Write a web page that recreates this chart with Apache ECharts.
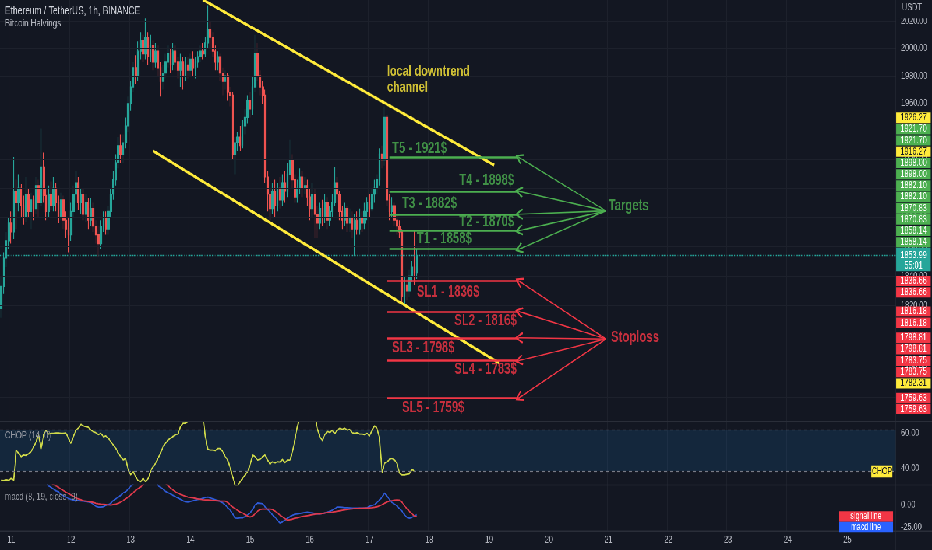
<!DOCTYPE html>
<html>
<head>
<meta charset="utf-8">
<title>ETHUSDT 1h</title>
<script src="https://cdn.jsdelivr.net/npm/echarts@6/dist/echarts.min.js"></script>
<style>
  html, body { margin: 0; padding: 0; background: #131722; overflow: hidden; }
  #wrap { width: 932px; height: 550px; overflow: hidden; }
  #chart { width: 1600px; height: 690px; transform: scale(0.5825, 0.797101); transform-origin: 0 0; }
</style>
</head>
<body>
<div id="wrap"><div id="chart"></div></div>
<script>
// the snapshot is squeezed: draw at 1600x690 and scale the canvas down to 932x550
var SX = 932 / 1600, SY = 550 / 690;
function px(v) { return v / SX; }
function py(v) { return v / SY; }

// hourly bars, bar 0 = day 10 20:00
var firstOpen = 1818;
var closes = [1833,1852,1864,1876,1870,1898,1890,1900,1888,1880,
  1896,1884,1892,1886,1902,1890,1915,1895,1884,1896,
  1888,1900,1890,1880,1892,1878,1872,1868,1884,1896,
  1904,1890,1896,1882,1890,1878,1886,1874,1868,1862,
  1874,1880,1872,1884,1896,1906,1918,1930,1924,1932,
  1944,1960,1972,1986,1980,1998,2006,1996,2008,1994,
  2002,1990,1998,1986,1976,1982,1990,1996,1988,1998,
  1990,1984,1990,1980,1988,1984,1992,1986,1990,1994,
  1998,1996,2004,2014,2008,1998,1990,1994,1982,1976,
  1980,1968,1966,1924,1932,1936,1930,1944,1950,1962,
  1956,1972,1996,1980,1972,1966,1908,1896,1886,1898,
  1888,1900,1892,1904,1898,1910,1920,1906,1894,1900,
  1908,1900,1902,1894,1886,1896,1882,1876,1886,1880,
  1890,1878,1884,1890,1904,1896,1884,1878,1886,1876,
  1880,1872,1878,1872,1880,1876,1884,1890,1886,1896,
  1900,1906,1924,1920,1950,1892,1884,1888,1878,1874,
  1870,1826,1834,1830,1840,1846,1842,1853.99];
var highs = [1840,1856,1870,1880,1884,1922,1906,1910,1903,1895,
  1908,1900,1897,1895,1908,1906,1942,1925,1900,1902,
  1905,1908,1904,1895,1897,1895,1884,1880,1890,1902,
  1912,1908,1900,1900,1896,1893,1893,1890,1878,1874,
  1878,1884,1884,1888,1900,1912,1924,1936,1938,1938,
  1950,1965,1976,1990,1995,2005,2012,2010,2022,2012,
  2010,2006,2004,2002,1990,1988,1996,2002,2000,2004,
  2002,1994,1996,1994,1994,1994,1996,1998,1994,1998,
  2002,2004,2008,2032,2020,2012,2002,1998,1996,1986,
  1984,1982,1972,1968,1936,1940,1944,1948,1956,1966,
  1968,1980,2010,2004,1984,1976,1970,1912,1900,1904,
  1906,1904,1908,1910,1912,1918,1934,1924,1910,1906,
  1914,1912,1908,1906,1900,1904,1900,1888,1890,1892,
  1896,1894,1888,1896,1915,1908,1898,1888,1890,1888,
  1886,1884,1882,1884,1886,1884,1890,1894,1896,1900,
  1906,1910,1928,1930,1958,1952,1896,1894,1890,1882,
  1878,1872,1840,1838,1844,1850,1871,1858];
var lows = [1812,1828,1846,1858,1862,1865,1872,1884,1880,1875,
  1877,1880,1872,1878,1882,1880,1888,1890,1878,1880,
  1885,1884,1884,1876,1878,1872,1866,1856,1864,1880,
  1890,1885,1882,1878,1877,1872,1874,1870,1862,1853,
  1858,1870,1868,1868,1880,1892,1902,1914,1918,1918,
  1928,1940,1955,1968,1974,1976,1992,1990,1992,1988,
  1990,1984,1986,1980,1965,1970,1978,1986,1982,1984,
  1984,1978,1972,1970,1976,1978,1980,1980,1978,1986,
  1990,1992,1994,2000,2000,1994,1984,1984,1976,1966,
  1970,1962,1958,1920,1910,1926,1926,1928,1938,1946,
  1950,1952,1968,1976,1966,1960,1904,1884,1878,1882,
  1880,1884,1886,1888,1890,1894,1906,1900,1890,1890,
  1896,1894,1896,1888,1878,1880,1866,1866,1872,1874,
  1876,1872,1874,1880,1888,1890,1878,1872,1874,1870,
  1870,1866,1854,1868,1868,1870,1872,1878,1880,1884,
  1890,1896,1902,1914,1916,1888,1878,1880,1874,1868,
  1866,1822,1820,1824,1826,1836,1834,1838];
var lastPrice = 1853.99;

var chopValues = [33,32.8,33.3,33,34,33,50.3,48.5,46.5,47.4,
  47.2,48.3,49.3,52,55,59,51,59,61.7,59.4,
  59.8,59.8,60,60,59.8,59.8,60,57,54.1,58,
  61.7,62.7,65,64,63.6,63.2,61.7,60.8,60.2,59,
  59.8,57.9,58.3,57,55,53.2,51.2,48.5,46.5,44.6,
  45.5,38.9,36,38,35,32.8,32.2,34,32.2,34,
  38,40.8,42.7,45.5,48.5,52.3,54.1,56,57,58,
  59,59.4,63.6,65.5,65.5,66.5,70,72,74,75,
  74,72,58,50.7,50.3,50.3,49.9,51.2,51.2,49.3,
  46.5,44.6,39.8,35,30,30,32.2,34,36,38,
  41.7,47.4,46.5,44.6,45,46.5,47.4,44.6,42.3,43.6,
  43,43.6,43.4,45,43,44.6,44.6,49.3,56,63.6,
  70,74,76,77,76,74,70,62.7,57.9,55.6,
  59,60.8,60.4,61.5,59.8,61.5,62.7,62.1,62.7,61.7,
  62.1,60.2,59.8,60.2,59.4,59.4,59,59.8,58.3,61.5,
  64.2,62.7,57,37,42.7,43.6,45,45.5,44.6,42.7,
  37,36,36,36.4,36.6,39.3,38];
var macdValues = [26,30,34,38,40,44,46,47,47,46,
  45,44,42,40,38,36,34,30,26,21.6,
  20,18,16,15,12,10.5,9,7.5,6.5,5.7,
  5.2,5,4.8,4.5,4,3.5,3,1,-1.5,-2.3,
  -2.3,-2,-0.5,0.5,2,5,7,9,11,13.6,
  15,18,21,24,28,32,36,38,40,38,
  36,34,30,22,20,18,15.5,14,12.5,11,
  9.5,8,6.5,5,3.8,3.4,4,5,5.5,6.2,
  6.8,7.5,8.5,9,8,7,6,5.2,4,2.5,
  0,-3,-6,-10,-14.8,-15,-14.5,-14.5,-13,-11,
  -9,-5,0,2.3,2,1.5,-2,-5,-8,-11,
  -14,-17,-20.5,-19,-17,-15,-13,-11.5,-10.5,-10,
  -9.5,-9,-8.5,-8,-8.5,-9,-9.5,-10,-10,-9.5,
  -9,-8,-7,-6,-4,-2.3,-2.3,-2.5,-3,-3,
  -3.2,-3.4,-3.4,-3.4,-3.4,-3.4,-3.4,-3,-1.5,-0.5,
  0.5,3,5.7,9,13.6,10,6,3,1,-1,
  -4,-7,-11,-14,-15,-14,-12.5,-11];
var signalValues = [25,27,29,31,33,35,37,38,39,40,
  40,40,39,38,37,35,33,31,29,27,
  25,23.5,21.6,20,18,16.5,14.5,13,11.5,10,
  8,7,6,5,4.5,4,3.5,3,2,1.5,
  1.1,0.8,0.5,0.2,0,0.5,1,2,3.4,5,
  7,9,11.4,14,16.5,18.5,20.5,23,26,28,
  30,32,33,32,30,28,25,22,19,17,
  15,13.5,12,11,10,9,8.5,8,7.5,7,
  6.5,6,5.8,5.7,5.5,5.2,5,4.8,4.6,4.5,
  4.5,3,0,-2.3,-4,-6,-8,-9,-11,-12.5,
  -13.6,-12.5,-10,-7,-5,-4.5,-4.5,-4.5,-4.5,-5,
  -7,-9,-11.4,-13.5,-15.5,-17,-16.5,-16,-15,-14.5,
  -13.6,-13,-12.5,-12,-11.5,-11,-10.5,-10,-10,-9.5,
  -9,-8.5,-8.2,-8,-7.5,-7,-6.5,-6,-5.5,-5,
  -4.5,-4.3,-4,-4,-3.8,-3.6,-3.5,-3.4,-3.2,-3,
  -2.5,-2,-1,0.5,2,3.5,4.5,5,5.5,5.7,
  5.5,3,-1,-4,-7,-10,-12.5,-13];

var priceTicks = [1760, 1780, 1800, 1820, 1840, 1860, 1880, 1900, 1920, 1940, 1960, 1980, 2000, 2020];

// drawings, stored as [bar index, price]
var channelUpper = [[81, 2036], [198, 1916.27]];
var channelLower = [[61, 1926.27], [200, 1782.31]];
var channelPrices = [1926.27, 1916.27, 1782.31];
var targetPrices = [1921.70, 1898.00, 1882.10, 1870.83, 1858.14];
var targetNames = ['T5 - 1921$', 'T4 - 1898$', 'T3 - 1882$', 'T2 - 1870$', 'T1 - 1858$'];
var targetTextAt = [[157, 1927.7], [184, 1905.2], [161, 1889.2], [184, 1876.8], [167, 1865.1]];
var stopPrices = [1836.66, 1816.18, 1798.81, 1783.75, 1759.63];
var stopNames = ['SL1 - 1836$', 'SL2 - 1816$', 'SL3 - 1798$', 'SL4 - 1783$', 'SL5 - 1759$'];
var stopTextAt = [[167, 1829.3], [182, 1809.9], [157, 1792.2], [182, 1777.8], [161, 1753.2]];
var targetsHub = [243, 1884.4];
var stopsHub = [243, 1798.0];

var GREEN = '#4caf50', RED = '#f23645', YELLOW = '#ffeb3b', TEAL = '#26a69a';
var GRID = '#1d212c', AXIS_TEXT = '#b2b5be';
var FONT = '"Liberation Sans", Arial, sans-serif';
var CHEVRON = 'path://M10,0L20,14L17.4,15.8L10,4.6L2.6,15.8L0,14Z';

var categories = [];
for (var k = 0; k < 360; k++) {
  var hAll = 20 + k;
  var hh = hAll % 24;
  categories.push((10 + Math.floor(hAll / 24)) + ' ' + (hh < 10 ? '0' + hh : hh) + ':00');
}
function isDayStart(idx, val) { return /00:00$/.test(val); }

var candles = closes.map(function (c, i) {
  return [i === 0 ? firstOpen : closes[i - 1], c, lows[i], highs[i]];
});

function axisMark(v, text) {
  return {
    yAxis: v,
    lineStyle: { color: 'rgba(0,0,0,0)', width: 1 },
    label: { show: true, position: 'end', formatter: text, color: AXIS_TEXT, fontSize: 12.5, distance: px(5) }
  };
}

var chart = echarts.init(document.getElementById('chart'), null, { width: 1600, height: 690 });

var option = {
  backgroundColor: '#131722',
  animation: false,
  textStyle: { fontFamily: FONT },
  grid: [
    { left: 0, top: 0, width: px(896), height: py(421), outerBoundsMode: 'none' },
    { left: 0, top: py(422), width: px(896), height: py(63), outerBoundsMode: 'none' },
    { left: 0, top: py(485), width: px(896), height: py(46), outerBoundsMode: 'none' }
  ],
  xAxis: [0, 1, 2].map(function (g) {
    return {
      type: 'category', gridIndex: g, data: categories, boundaryGap: true,
      axisLine: { show: false }, axisTick: { show: false },
      axisLabel: {
        show: g === 2, interval: isDayStart, color: AXIS_TEXT, fontSize: 12.5, margin: py(4),
        formatter: function (v) { return v.split(' ')[0]; }
      },
      splitLine: { show: true, interval: isDayStart, lineStyle: { color: GRID, width: 1.2 } }
    };
  }),
  yAxis: [
    { type: 'log', logBase: 10, gridIndex: 0, min: 1744.8, max: 2035.8, show: false },
    { type: 'value', gridIndex: 1, min: 30.3, max: 66.3, show: false },
    { type: 'value', gridIndex: 2, min: -29.5, max: 22.7, show: false }
  ],
  series: [
    {
      // price scale grid + labels
      type: 'line', xAxisIndex: 0, yAxisIndex: 0, data: [], z: 1, silent: true,
      markLine: {
        symbol: 'none', silent: true,
        data: priceTicks.map(function (t) {
          var m = axisMark(t, t.toFixed(2));
          m.lineStyle = { color: GRID, width: 1.2, type: 'solid' };
          return m;
        })
      }
    },
    {
      type: 'candlestick', xAxisIndex: 0, yAxisIndex: 0, data: candles, barWidth: 3, silent: true,
      itemStyle: { color: TEAL, color0: '#ef5350', borderColor: TEAL, borderColor0: '#ef5350', borderWidth: 1.2 },
      markLine: {
        symbol: 'none', silent: true,
        data: [{ yAxis: lastPrice, lineStyle: { color: TEAL, type: 'dotted', width: 1.4 }, label: { show: false } }]
      }
    },
    {
      type: 'lines', coordinateSystem: 'cartesian2d', xAxisIndex: 0, yAxisIndex: 0, z: 5, silent: true,
      lineStyle: { color: YELLOW, width: 3.5, opacity: 1 },
      data: [{ coords: channelUpper }, { coords: channelLower }]
    },
    {
      type: 'lines', coordinateSystem: 'cartesian2d', xAxisIndex: 0, yAxisIndex: 0, z: 6, silent: true,
      lineStyle: { color: GREEN, width: 2.5, opacity: 1 },
      data: targetPrices.map(function (p) { return { coords: [[156, p], [208, p]] }; })
    },
    {
      type: 'lines', coordinateSystem: 'cartesian2d', xAxisIndex: 0, yAxisIndex: 0, z: 6, silent: true,
      lineStyle: { color: RED, width: 2.5, opacity: 1 },
      data: stopPrices.map(function (p) { return { coords: [[155, p], [208, p]] }; })
    },
    {
      type: 'lines', coordinateSystem: 'cartesian2d', xAxisIndex: 0, yAxisIndex: 0, z: 6, silent: true,
      lineStyle: { color: GREEN, width: 1.6, opacity: 1 },
      symbol: ['none', CHEVRON], symbolSize: [20, 14],
      data: targetPrices.map(function (p) { return { coords: [targetsHub, [208, p]] }; })
    },
    {
      type: 'lines', coordinateSystem: 'cartesian2d', xAxisIndex: 0, yAxisIndex: 0, z: 6, silent: true,
      lineStyle: { color: RED, width: 1.6, opacity: 1 },
      symbol: ['none', CHEVRON], symbolSize: [20, 14],
      data: stopPrices.map(function (p) { return { coords: [stopsHub, [208, p]] }; })
    },
    {
      type: 'scatter', xAxisIndex: 0, yAxisIndex: 0, symbolSize: 0, z: 7, silent: true,
      label: { show: true, position: 'right', distance: 0, fontSize: 19.5, fontWeight: 'bold' },
      data: targetNames.map(function (n, i) {
        return { value: targetTextAt[i], label: { formatter: n, color: GREEN } };
      }).concat(stopNames.map(function (n, i) {
        return { value: stopTextAt[i], label: { formatter: n, color: RED } };
      })).concat([
        { value: [244, 1887.8], label: { formatter: 'Targets', color: GREEN } },
        { value: [245, 1798.7], label: { formatter: 'Stoploss', color: RED } },
        { value: [155, 1977.0], label: { formatter: 'local downtrend\nchannel', color: YELLOW, fontSize: 18.5, lineHeight: 20 } }
      ])
    },
    {
      type: 'line', name: 'CHOP', xAxisIndex: 1, yAxisIndex: 1, data: chopValues, symbol: 'none', z: 3, silent: true,
      lineStyle: { color: '#d2dc4a', width: 1.8 },
      markArea: { silent: true, itemStyle: { color: 'rgba(33,150,243,0.13)' }, data: [[{ yAxis: 38.2 }, { yAxis: 61.8 }]] },
      markLine: {
        symbol: 'none', silent: true,
        data: [
          { yAxis: 61.8, lineStyle: { color: '#787b86', type: [5, 5], width: 1.2 }, label: { show: false } },
          { yAxis: 38.2, lineStyle: { color: '#787b86', type: [5, 5], width: 1.2 }, label: { show: false } },
          axisMark(60, '60.00'),
          axisMark(40, '40.00')
        ]
      }
    },
    {
      type: 'line', name: 'macd line', xAxisIndex: 2, yAxisIndex: 2, data: macdValues, symbol: 'none', z: 3, silent: true,
      lineStyle: { color: '#2f5bd8', width: 1.8 },
      markLine: {
        symbol: 'none', silent: true,
        data: [
          (function () { var m = axisMark(0, '0.00'); m.lineStyle = { color: '#262a36', width: 1.2, type: 'solid' }; return m; })(),
          axisMark(-25, '-25.00')
        ]
      }
    },
    {
      type: 'line', name: 'signal line', xAxisIndex: 2, yAxisIndex: 2, data: signalValues, symbol: 'none', z: 3, silent: true,
      lineStyle: { color: '#e03a4c', width: 1.8 }
    }
  ]
};

chart.setOption(option);

// chrome: pane borders, legends and the stacked price tags on the scale
var els = [];
function hline(y) {
  els.push({ type: 'line', z: 90, shape: { x1: 0, y1: y, x2: 1600, y2: y }, style: { stroke: '#2a2e39', lineWidth: 1.5 } });
}
function text(x, y, str, fill, size, align, weight) {
  els.push({
    type: 'text', z: 120, x: x, y: y,
    style: { text: str, fill: fill, font: (weight || 'normal') + ' ' + size + 'px ' + FONT,
      align: align || 'left', textAlign: align || 'left', verticalAlign: 'middle', textVerticalAlign: 'middle' }
  });
}
function box(x, y, w, h, fill) {
  els.push({ type: 'rect', z: 110, shape: { x: x, y: y, width: w, height: h }, style: { fill: fill } });
}

hline(py(421.5));
hline(py(485));
hline(py(531));
els.push({ type: 'line', z: 90, shape: { x1: px(896), y1: 0, x2: px(896), y2: 690 }, style: { stroke: '#2a2e39', lineWidth: 1.5 } });

text(px(5), py(11.5), 'Ethereum / TetherUS, 1h, BINANCE', '#d1d4dc', 14.5);
text(px(5), py(23.5), 'Bitcoin Halvings', AXIS_TEXT, 13.5);
text(px(5), py(435.5), 'CHOP (14, 0)', '#9598a1', 13);
text(px(5), py(497), 'macd (8, 19, close, 9)', '#9598a1', 13);

box(px(897), 0, px(35), py(18.5), '#131722');
text(px(902), py(8), 'USDT', AXIS_TEXT, 12.5);

function yOf(p) { return chart.convertToPixel({ yAxisIndex: 0 }, p); }
var tagH = py(11.3), tagX = px(896.5), tagW = px(34);
function tag(cy, t) {
  box(tagX, cy - tagH / 2 + 0.6, tagW, tagH - 1.2, t.fill);
  text(tagX + tagW / 2, cy, t.price.toFixed(2), t.color, 12.5, 'center');
}
var tags = [];
targetPrices.forEach(function (p) { tags.push({ price: p, fill: GREEN, color: '#ffffff' }, { price: p, fill: GREEN, color: '#ffffff' }); });
stopPrices.forEach(function (p) { tags.push({ price: p, fill: RED, color: '#ffffff' }, { price: p, fill: RED, color: '#ffffff' }); });
channelPrices.forEach(function (p) { tags.push({ price: p, fill: YELLOW, color: '#131722' }); });

var curY = yOf(lastPrice);
var curTop = curY - py(7.6), curH = py(23.5);
box(tagX, curTop, tagW, curH, TEAL);
text(tagX + tagW / 2, curY, lastPrice.toFixed(2), '#ffffff', 12.5, 'center');
text(tagX + tagW / 2, curY + py(10.5), '55:01', '#ffffff', 12.5, 'center');

var edge = curTop;
tags.filter(function (t) { return t.price > lastPrice; })
  .sort(function (a, b) { return a.price - b.price; })
  .forEach(function (t) {
    var c = Math.min(yOf(t.price), edge - tagH / 2);
    tag(c, t);
    edge = c - tagH / 2;
  });
edge = curTop + curH;
tags.filter(function (t) { return t.price < lastPrice; })
  .sort(function (a, b) { return b.price - a.price; })
  .forEach(function (t) {
    var c = Math.max(yOf(t.price), edge + tagH / 2);
    tag(c, t);
    edge = c + tagH / 2;
  });

// indicator name tags at their last values
var chopY = chart.convertToPixel({ yAxisIndex: 1 }, chopValues[chopValues.length - 1]);
box(px(871.5), chopY - py(6.2), px(21), py(12.4), YELLOW);
text(px(882), chopY, 'CHOP', '#131722', 12, 'center');

var sigY = chart.convertToPixel({ yAxisIndex: 2 }, signalValues[signalValues.length - 1]);
var smallH = py(10.8);
box(px(839), sigY - smallH / 2, px(54), smallH, RED);
text(px(866), sigY, 'signal line', '#ffffff', 12, 'center');
box(px(839), sigY + smallH / 2, px(54), smallH, '#2962ff');
text(px(866), sigY + smallH, 'macd line', '#ffffff', 12, 'center');

chart.setOption({ graphic: { elements: els } });
</script>
</body>
</html>
